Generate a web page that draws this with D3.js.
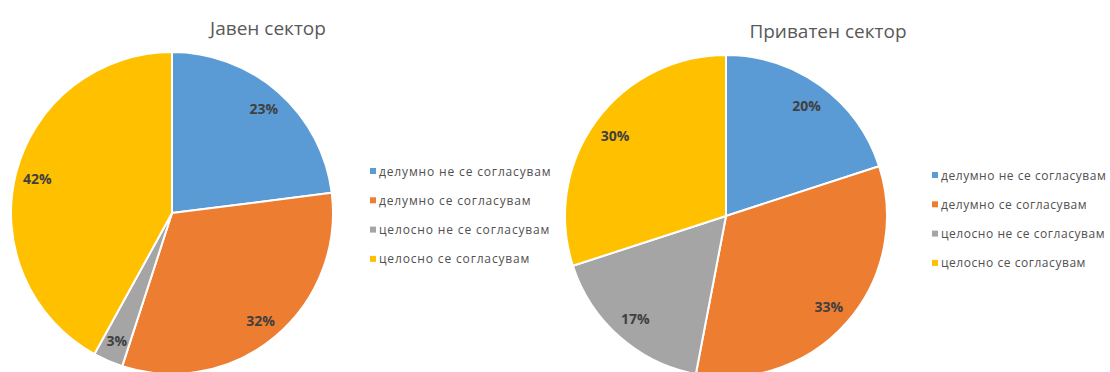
<!DOCTYPE html>
<html>
<head>
<meta charset="utf-8">
<script src="https://cdn.jsdelivr.net/npm/d3@7"></script>
<style>
  html, body { margin: 0; padding: 0; background: #ffffff; }
  svg { display: block; }
</style>
</head>
<body>
<svg id="chart" width="1110" height="372"></svg>
<script>
// Response categories (shared by both pies)
const categories = [
  "делумно не се согласувам",
  "делумно се согласувам",
  "целосно не се согласувам",
  "целосно се согласувам"
];
const colors = ["#5B9BD5", "#ED7D31", "#A5A5A5", "#FFC000"];

// Shares in percent
const publicValues = [23, 32, 3, 42];
const privateValues = [20, 33, 17, 30];

const titles = ["Јавен сектор", "Приватен сектор"];

const svg = d3.select("#chart");
const color = d3.scaleOrdinal().domain(categories).range(colors);

const pie = d3.pie().sort(null).value(d => d.value);

function drawPie(cfg) {
  const g = svg.append("g");
  const data = categories.map((c, i) => ({ cat: c, value: cfg.values[i] }));
  const arcs = pie(data);
  const arc = d3.arc().innerRadius(0).outerRadius(cfg.r);
  const labelArc = d3.arc().innerRadius(cfg.labelR).outerRadius(cfg.labelR);

  const pg = g.append("g").attr("transform", `translate(${cfg.cx},${cfg.cy})`);
  pg.selectAll("path")
    .data(arcs)
    .join("path")
    .attr("d", arc)
    .attr("fill", d => color(d.data.cat))
    .attr("stroke", "#ffffff")
    .attr("stroke-width", 2)
    .attr("stroke-linejoin", "round");

  pg.selectAll("text")
    .data(arcs)
    .join("text")
    .attr("transform", d => `translate(${labelArc.centroid(d)})`)
    .attr("text-anchor", "middle")
    .attr("dominant-baseline", "central")
    .attr("font-family", "'Open Sans', sans-serif")
    .attr("font-weight", "bold")
    .attr("font-size", 14)
    .attr("fill", "#404040")
    .text(d => d.data.value + "%");

  // title
  g.append("text")
    .attr("x", cfg.titleX)
    .attr("y", cfg.titleY)
    .attr("text-anchor", "middle")
    .attr("font-family", "'Open Sans', sans-serif")
    .attr("font-size", 19)
    .attr("fill", "#595959")
    .text(cfg.title);

  // legend
  const lg = g.append("g").attr("transform", `translate(${cfg.legX},${cfg.legY})`);
  const rows = lg.selectAll("g")
    .data(categories)
    .join("g")
    .attr("transform", (d, i) => `translate(0,${i * 29.3})`);
  rows.append("rect")
    .attr("x", 0).attr("y", -3)
    .attr("width", 6).attr("height", 6)
    .attr("fill", d => color(d));
  rows.append("text")
    .attr("x", 9)
    .attr("y", 0)
    .attr("dominant-baseline", "central")
    .attr("font-family", "'Open Sans', sans-serif")
    .attr("font-size", 12)
    .attr("letter-spacing", cfg.legSpacing)
    .attr("fill", "#505050")
    .text(d => d);
}

drawPie({
  values: publicValues, title: titles[0],
  cx: 172, cy: 213, r: 161, labelR: 139,
  titleX: 268, titleY: 35,
  legX: 370, legY: 171, legSpacing: 0.85
});

drawPie({
  values: privateValues, title: titles[1],
  cx: 726, cy: 216, r: 161, labelR: 137,
  titleX: 828, titleY: 38,
  legX: 932, legY: 175, legSpacing: 0.55
});
</script>
</body>
</html>
